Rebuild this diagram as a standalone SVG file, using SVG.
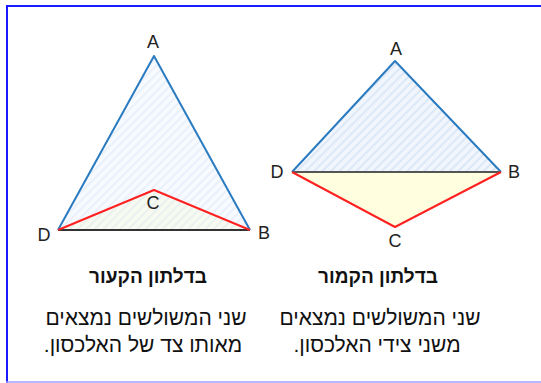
<svg xmlns="http://www.w3.org/2000/svg" width="541" height="383" viewBox="0 0 541 383">
<style>
.blue{fill:none;stroke:#2a7bc0;stroke-width:2;stroke-linejoin:round}
.red{fill:none;stroke:#ff2020;stroke-width:2;stroke-linejoin:round}
.diag{fill:none;stroke:#333;stroke-width:2}
.lbl{font-family:"Liberation Sans",Arial,sans-serif;font-size:18px;fill:#222;text-anchor:middle}
.head{font-family:"Liberation Sans","DejaVu Sans",sans-serif;font-size:19px;font-weight:bold;fill:#111;text-anchor:middle;direction:rtl}
.body{font-family:"Liberation Sans","DejaVu Sans",sans-serif;font-size:21px;fill:#111;text-anchor:middle;direction:rtl}
</style>
<defs>
<pattern id="hatch" width="6" height="6" patternUnits="userSpaceOnUse" patternTransform="rotate(45)">
<rect width="6" height="6" fill="#f1f6fd"/>
<line x1="1" y1="0" x2="1" y2="6" stroke="#d3e1f5" stroke-width="1.4"/>
</pattern>
</defs>
<rect x="0" y="0" width="541" height="383" fill="#fff"/>
<line x1="6" y1="6" x2="541" y2="6" stroke="#1a1aff" stroke-width="2"/>
<line x1="7" y1="5" x2="7" y2="383" stroke="#1a1aff" stroke-width="2"/>
<line x1="6" y1="382" x2="541" y2="382" stroke="#a0a0ff" stroke-width="1.5"/>

<g id="concave">
<polygon points="58,230 154,190 250,230" fill="#ffffe0"/>
<polygon points="154,56 250,230 58,230" fill="url(#hatch)" opacity="0.6"/>
<line class="diag" x1="58" y1="230" x2="250" y2="230"/>
<polyline class="blue" points="58,230 154,56 250,230"/>
<polyline class="red" points="58,230 154,190 250,230"/>
<text class="lbl" x="153" y="48">A</text>
<text class="lbl" x="44" y="241">D</text>
<text class="lbl" x="264" y="239">B</text>
<text class="lbl" x="153" y="209">C</text>
</g>

<g id="convex">
<polygon points="292,172 395,227 501,172" fill="#ffffe0"/>
<polygon points="395,61 501,172 292,172" fill="url(#hatch)"/>
<line x1="292" y1="172" x2="501" y2="172" stroke="#555" stroke-width="2"/>
<polyline class="blue" points="292,172 395,61 501,172"/>
<polyline class="red" points="292,172 395,227 501,172"/>
<text class="lbl" x="396" y="55">A</text>
<text class="lbl" x="277" y="178">D</text>
<text class="lbl" x="514" y="178">B</text>
<text class="lbl" x="395" y="247">C</text>
</g>

<g id="text-concave">
<text class="head" x="148" y="283">בדלתון הקעור</text>
<text class="body" x="146" y="325">שני המשולשים נמצאים</text>
<text class="body" x="143" y="352">מאותו צד של האלכסון.</text>
</g>
<g id="text-convex">
<text class="head" x="378" y="283">בדלתון הקמור</text>
<text class="body" x="380" y="325">שני המשולשים נמצאים</text>
<text class="body" x="377" y="352">משני צידי האלכסון.</text>
</g>
</svg>
